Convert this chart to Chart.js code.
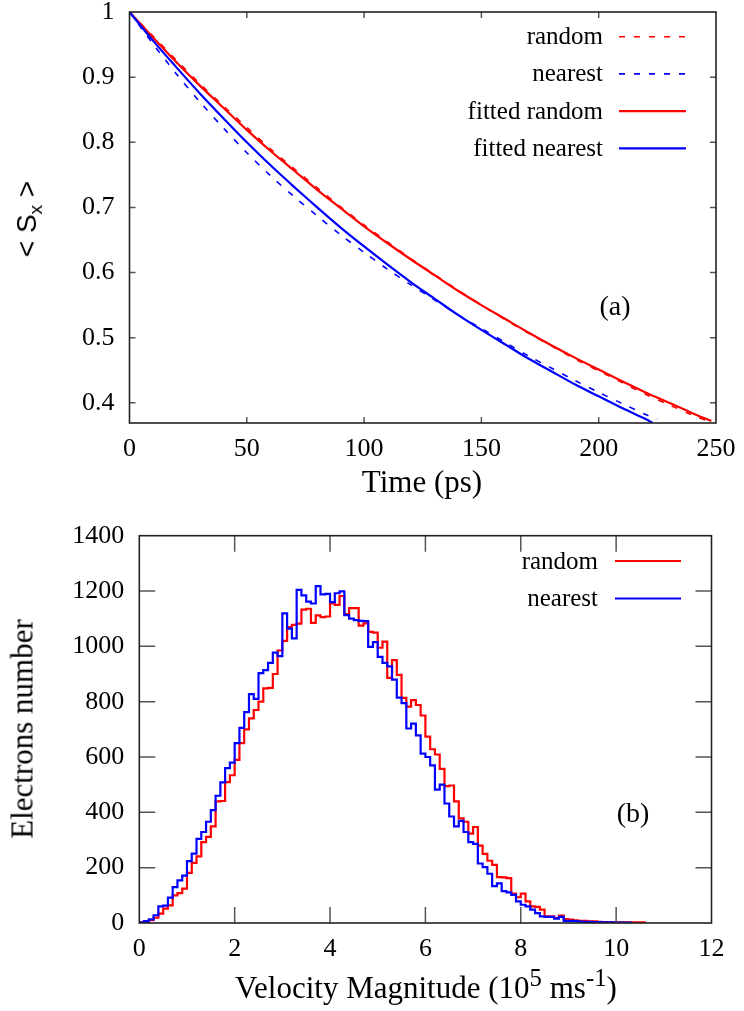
<!DOCTYPE html>
<html>
<head>
<meta charset="utf-8">
<title>Spin relaxation and velocity distribution</title>
<script src="https://cdn.jsdelivr.net/npm/chart.js@4.4.0/dist/chart.umd.min.js"></script>
<style>
  html, body { margin: 0; padding: 0; background: #fff; }
  #page { position: relative; width: 744px; height: 1011px; overflow: hidden;
          font-family: 'Liberation Serif', 'Times New Roman', serif; color: #000; }
  .box { position: absolute; left: 0; width: 744px; }
  .lbl { position: absolute; white-space: nowrap; line-height: 1; transform: translate(-50%, -50%); }
  .rot { transform: translate(-50%, -50%) rotate(-90deg); }
  sup { font-size: 0.8em; vertical-align: 0.45em; line-height: 0; }
</style>
</head>
<body>
<div id="page">
  <div class="box" style="top:0;height:470px"><canvas id="Chart1"></canvas></div>
  <div class="box" style="top:500px;height:470px"><canvas id="Chart2"></canvas></div>

  <div class="lbl rot" style="left:27px;top:219px;font-family:'Liberation Sans',Arial,sans-serif;font-size:28px">&lt; S<sub style="font-size:19px;vertical-align:-0.3em;line-height:0">x</sub> &gt;</div>
  <div class="lbl" style="left:422px;top:481px;font-size:31px">Time (ps)</div>
  <div class="lbl" style="left:615px;top:306px;font-size:28px">(a)</div>

  <div class="lbl rot" style="left:22px;top:729px;font-size:31px">Electrons number</div>
  <div class="lbl" style="left:426px;top:987px;font-size:31px">Velocity Magnitude (10<sup>5</sup> ms<sup>-1</sup>)</div>
  <div class="lbl" style="left:633px;top:813px;font-size:28px">(b)</div>
</div>

<script>
// ---- panel (a): <Sx> vs time ----
const randomTime = [0, 10, 20, 30, 40, 50, 60, 70, 80, 90, 100, 110, 120, 130, 140, 150, 160, 170, 180, 190, 200, 210, 220, 230, 240, 248];
const randomSx = [1, 0.963, 0.926, 0.890, 0.856, 0.823, 0.790, 0.760, 0.730, 0.701, 0.673, 0.647, 0.621, 0.597, 0.573, 0.550, 0.528, 0.507, 0.487, 0.467, 0.449, 0.431, 0.413, 0.397, 0.381, 0.370];
const fittedRandomSx = [1, 0.961, 0.923, 0.887, 0.853, 0.819, 0.787, 0.757, 0.727, 0.699, 0.671, 0.645, 0.620, 0.596, 0.572, 0.550, 0.529, 0.508, 0.488, 0.469, 0.451, 0.433, 0.416, 0.400, 0.384, 0.372];

const nearestTime = [0, 10, 20, 30, 40, 50, 60, 70, 80, 90, 100, 110, 120, 130, 140, 150, 160, 170, 180, 190, 200, 210, 220, 225];
const nearestSx = [1, 0.951, 0.905, 0.862, 0.822, 0.784, 0.749, 0.717, 0.687, 0.658, 0.631, 0.605, 0.581, 0.558, 0.535, 0.514, 0.493, 0.472, 0.453, 0.434, 0.416, 0.399, 0.382, 0.375];
const fittedTime = [0, 10, 20, 30, 40, 50, 60, 70, 80, 90, 100, 110, 120, 130, 140, 150, 160, 170, 180, 190, 200, 210, 220, 223];
const fittedNearestSx = [1, 0.956, 0.915, 0.875, 0.837, 0.800, 0.765, 0.732, 0.700, 0.669, 0.640, 0.612, 0.585, 0.560, 0.535, 0.512, 0.490, 0.468, 0.448, 0.428, 0.410, 0.392, 0.375, 0.369];

const timeTicks = [0, 50, 100, 150, 200, 250];
const sxTicks = [0.4, 0.5, 0.6, 0.7, 0.8, 0.9, 1];

// ---- panel (b): velocity histograms, bins of 0.1 x 10^5 m/s starting at 0 ----
const binWidth = 0.1;
const randomCounts = [1, 4, 10, 19, 34, 52, 64, 100, 108, 124,
  181, 217, 241, 292, 311, 349, 440, 441, 509, 534,
  590, 650, 700, 740, 770, 800, 848, 850, 900, 985,
  1020, 1070, 1078, 1082, 1133, 1136, 1085, 1112, 1106, 1108,
  1155, 1150, 1182, 1117, 1138, 1138, 1075, 1083, 1052, 1050,
  995, 1017, 886, 950, 897, 814, 782, 806, 788, 750,
  674, 628, 609, 557, 495, 497, 440, 378, 366, 323,
  347, 280, 250, 225, 210, 166, 165, 162, 106, 93,
  106, 78, 60, 58, 48, 24, 24, 18, 27, 14,
  12, 10, 8, 8, 6, 6, 4, 3, 3, 2,
  2, 2, 2, 2, 2, 2];
const nearestCounts = [2, 7, 13, 28, 60, 63, 92, 130, 154, 171,
  224, 251, 304, 329, 366, 408, 460, 508, 560, 580,
  650, 705, 762, 827, 810, 903, 914, 940, 977, 965,
  1119, 1064, 1029, 1204, 1184, 1162, 1155, 1218, 1188, 1190,
  1160, 1192, 1199, 1113, 1100, 1095, 1092, 1091, 998, 1015,
  962, 940, 928, 880, 815, 795, 703, 721, 678, 612,
  600, 570, 482, 500, 432, 385, 349, 369, 329, 292,
  286, 215, 202, 178, 133, 143, 115, 111, 102, 78,
  66, 60, 48, 36, 24, 22, 22, 16, 22, 8,
  8, 7, 5, 4, 4, 3, 3, 2, 2, 2,
  1, 1, 1];

const velocityTicks = [0, 2, 4, 6, 8, 10, 12];
const countTicks = [0, 200, 400, 600, 800, 1000, 1200, 1400];

const RED = '#ff0000';
const BLUE = '#0000ff';
const SERIF = "'Liberation Serif', 'Times New Roman', serif";

Chart.defaults.font.family = SERIF;
Chart.defaults.color = '#000';

function pairs(xs, ys) {
  return xs.map((x, i) => ({ x: x, y: ys[i] }));
}

// histogram outline: each count is held over its bin, then drops to zero
function histPoints(counts) {
  const pts = counts.map((c, i) => ({ x: i * binWidth, y: c }));
  pts.push({ x: counts.length * binWidth, y: 0 });
  return pts;
}

// closed frame with inward tick marks on all four sides (gnuplot look)
const frameTicks = {
  id: 'frameTicks',
  afterDatasetsDraw(chart, args, o) {
    const ctx = chart.ctx;
    const a = chart.chartArea;
    const xs = chart.scales.x, ys = chart.scales.y;
    ctx.save();
    ctx.strokeStyle = '#555';
    ctx.lineWidth = 1.5;
    ctx.beginPath();
    xs.ticks.forEach(t => {
      const px = xs.getPixelForValue(t.value);
      if (px <= a.left + 1 || px >= a.right - 1) return;
      ctx.moveTo(px, a.bottom); ctx.lineTo(px, a.bottom - o.len);
      ctx.moveTo(px, a.top); ctx.lineTo(px, a.top + o.len);
    });
    ys.ticks.forEach(t => {
      const py = ys.getPixelForValue(t.value);
      if (py <= a.top + 1 || py >= a.bottom - 1) return;
      ctx.moveTo(a.left, py); ctx.lineTo(a.left + o.len, py);
      ctx.moveTo(a.right, py); ctx.lineTo(a.right - o.len, py);
    });
    ctx.stroke();
    ctx.strokeStyle = '#222';
    ctx.lineWidth = 1.6;
    ctx.strokeRect(a.left, a.top, a.right - a.left, a.bottom - a.top);
    ctx.restore();
  }
};

// key in the top right corner: label right-aligned, line sample after it
const sampleLegend = {
  id: 'sampleLegend',
  afterDraw(chart, args, o) {
    const ctx = chart.ctx;
    ctx.save();
    ctx.font = o.font;
    ctx.fillStyle = '#000';
    ctx.textAlign = 'right';
    ctx.textBaseline = 'middle';
    chart.data.datasets.forEach((ds, i) => {
      const y = o.top + i * o.step;
      ctx.fillText(ds.label, o.textRight, y + 1);
      ctx.strokeStyle = ds.borderColor;
      ctx.lineWidth = ds.borderWidth;
      ctx.setLineDash(ds.borderDash || []);
      ctx.beginPath();
      ctx.moveTo(o.lineFrom, y);
      ctx.lineTo(o.lineTo, y);
      ctx.stroke();
      ctx.setLineDash([]);
    });
    ctx.restore();
  }
};

function axes(xMin, xMax, xTicks, yMin, yMax, yTicks, yWidth) {
  const tickFont = { family: SERIF, size: 26 };
  return {
    x: {
      type: 'linear', min: xMin, max: xMax,
      grid: { display: false, drawTicks: false },
      border: { display: false },
      afterBuildTicks: s => { s.ticks = xTicks.map(v => ({ value: v })); },
      afterFit: s => { s.height = 47; s.paddingLeft = 0; s.paddingRight = 0; },
      ticks: { font: tickFont, color: '#000', padding: 11, maxRotation: 0, callback: v => String(v) }
    },
    y: {
      type: 'linear', min: yMin, max: yMax,
      grid: { display: false, drawTicks: false },
      border: { display: false },
      afterBuildTicks: s => { s.ticks = yTicks.map(v => ({ value: v })); },
      afterFit: s => { s.width = yWidth; s.paddingTop = 0; s.paddingBottom = 0; },
      ticks: { font: tickFont, color: '#000', padding: 15, callback: v => String(v) }
    }
  };
}

function drawSpinChart() {
  const ctx = document.getElementById('Chart1');
  const chartdata = {
    datasets: [
      { label: 'random', data: pairs(randomTime, randomSx), borderColor: RED, borderWidth: 1.6, borderDash: [6, 9], order: 3 },
      { label: 'nearest', data: pairs(nearestTime, nearestSx), borderColor: BLUE, borderWidth: 1.6, borderDash: [6, 9], order: 2 },
      { label: 'fitted random', data: pairs(randomTime, fittedRandomSx), borderColor: RED, borderWidth: 2.2, order: 1 },
      { label: 'fitted nearest', data: pairs(fittedTime, fittedNearestSx), borderColor: BLUE, borderWidth: 2.2, order: 0 }
    ]
  };
  chartdata.datasets.forEach(d => { d.pointRadius = 0; d.fill = false; d.tension = 0.3; });

  const config = {
    type: 'line',
    data: chartdata,
    options: {
      responsive: true,
      maintainAspectRatio: false,
      animation: false,
      layout: { padding: { top: 12, right: 28, left: 0, bottom: 0 } },
      scales: axes(0, 250, timeTicks, 0.369, 1, sxTicks, 129.5),
      plugins: {
        legend: { display: false },
        tooltip: { enabled: false },
        frameTicks: { len: 6 },
        sampleLegend: { font: "25px 'Liberation Serif'", top: 36.7, step: 37.2, textRight: 603, lineFrom: 619, lineTo: 686 }
      }
    },
    plugins: [frameTicks, sampleLegend]
  };
  new Chart(ctx, config);
}

function drawVelocityChart() {
  const ctx = document.getElementById('Chart2');
  const chartdata = {
    datasets: [
      { label: 'random', data: histPoints(randomCounts), borderColor: RED, borderWidth: 2.2, order: 1 },
      { label: 'nearest', data: histPoints(nearestCounts), borderColor: BLUE, borderWidth: 2.2, order: 0 }
    ]
  };
  chartdata.datasets.forEach(d => { d.pointRadius = 0; d.fill = false; d.stepped = true; });

  const config = {
    type: 'line',
    data: chartdata,
    options: {
      responsive: true,
      maintainAspectRatio: false,
      animation: false,
      layout: { padding: { top: 35.7, right: 32.5, left: 0, bottom: 0 } },
      scales: axes(0, 12, velocityTicks, 0, 1400, countTicks, 139.3),
      plugins: {
        legend: { display: false },
        tooltip: { enabled: false },
        frameTicks: { len: 16 },
        sampleLegend: { font: "25px 'Liberation Serif'", top: 61, step: 37.5, textRight: 598, lineFrom: 615, lineTo: 681 }
      }
    },
    plugins: [frameTicks, sampleLegend]
  };
  new Chart(ctx, config);
}

document.addEventListener('DOMContentLoaded', () => {
  drawSpinChart();
  drawVelocityChart();
});
</script>
</body>
</html>
